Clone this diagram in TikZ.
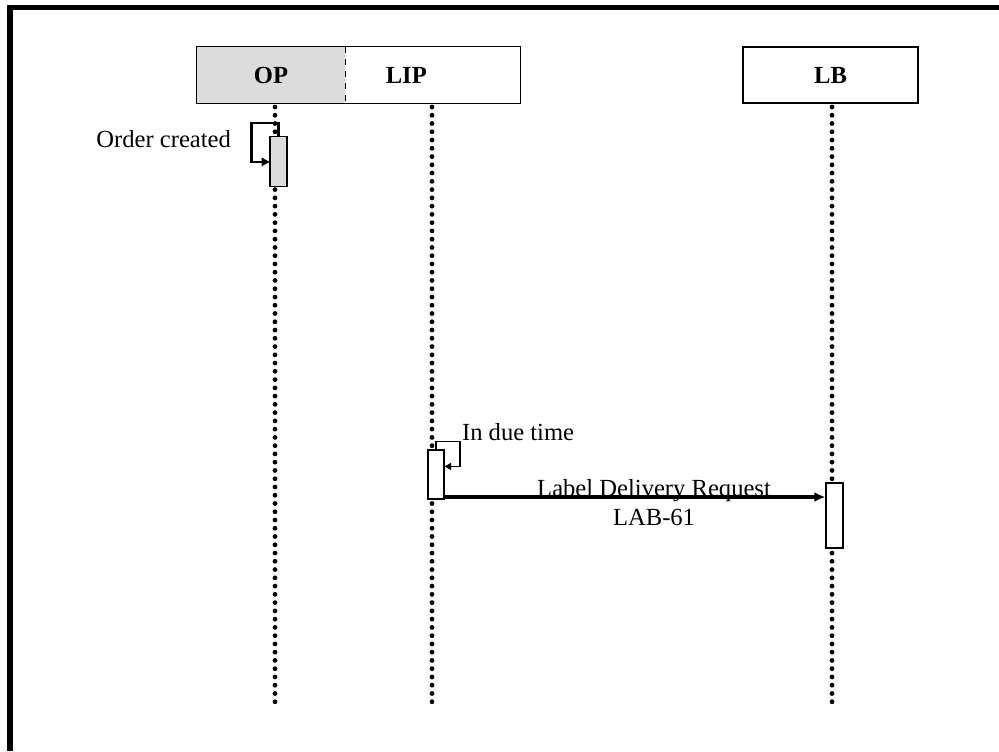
\documentclass[tikz,border=0pt]{standalone}
\usepackage{fontspec}
\setmainfont{Liberation Serif}
\usepackage{xcolor}
\usetikzlibrary{arrows.meta,positioning}
\definecolor{OPGray}{RGB}{220,220,220}

\begin{document}
\begin{tikzpicture}[
  x=0.5pt, y=-0.5pt,
  every node/.style={font=\fontsize{12.3}{14.5}\selectfont},
  head/.style={minimum height=28pt, inner sep=0pt, font=\fontsize{12.3}{14.5}\selectfont\bfseries},
  act/.style={draw, line width=0.6pt, inner sep=0pt},
  life/.style={line width=2.4pt, line cap=round, dash pattern=on 0pt off 4.13pt},
  selfmsg/.style={-{Latex[length=4.5pt,width=5pt]}, line width=1.1pt},
  selfthin/.style={-{Latex[length=3.5pt,width=4pt]}, line width=0.55pt},
  msg/.style={-{Latex[length=5.5pt,width=5pt]}, line width=1.8pt}
]
\useasboundingbox (0,0) rectangle (999,751);
% frame
\draw[line width=2.75pt, line join=miter] (10,751) -- (10,7.5) -- (999,7.5);

% heads
\node[head, fill=OPGray, minimum width=74pt] (op) at (271,75) {OP};
\node[head, minimum width=87pt, text width=47pt, inner xsep=20pt, align=left, right=0pt of op] (lip) {LIP};
\node[head, draw, line width=0.6pt, minimum width=87.5pt] (lb) at (830.5,75) {LB};
\draw[line width=0.6pt] (op.north east) -| (op.south west) -- (op.south east);
\draw[line width=0.6pt] (op.north east) -- (lip.north east) -- (lip.south east) -- (op.south east);
\draw[line width=0.6pt, dashed] (op.north east) -- (op.south east);

% lifelines
\foreach \x/\n in {275/op,432/lip,832/lb} {
  \coordinate (\n top) at (\x,107);
  \coordinate (\n bot) at (\x,702);
  \draw[life] (\n top) -- (\n bot);
}

% activations
\node[act, fill=OPGray, minimum width=8.5pt, minimum height=25pt] (actOP) at (278.5,161.5) {};
\node[act, fill=white, minimum width=8pt, minimum height=24.5pt] (actLIP) at (436,474.5) {};
\node[act, fill=white, minimum width=8.5pt, minimum height=32.5pt] (actLB) at (834.5,515.5) {};

% messages
\draw[selfmsg] (actOP.north) -- ++(0,-13) -| ++(-27,39) -- ++(19,0);
\node[anchor=east] (created) at (238,139) {Order created};

\draw[selfthin] (actLIP.north) -- ++(0,-8) -| ++(24,25) -- ++(-16,0);
\node[anchor=west] (due) at (455,432) {In due time};

\coordinate (reqStart) at ([yshift=-11.25pt]actLIP.east);
\draw[msg] (reqStart) -- node[pos=0.55, yshift=-3pt, align=center] (req) {Label Delivery Request\\LAB-61} (reqStart -| actLB.west);
\end{tikzpicture}
\end{document}
